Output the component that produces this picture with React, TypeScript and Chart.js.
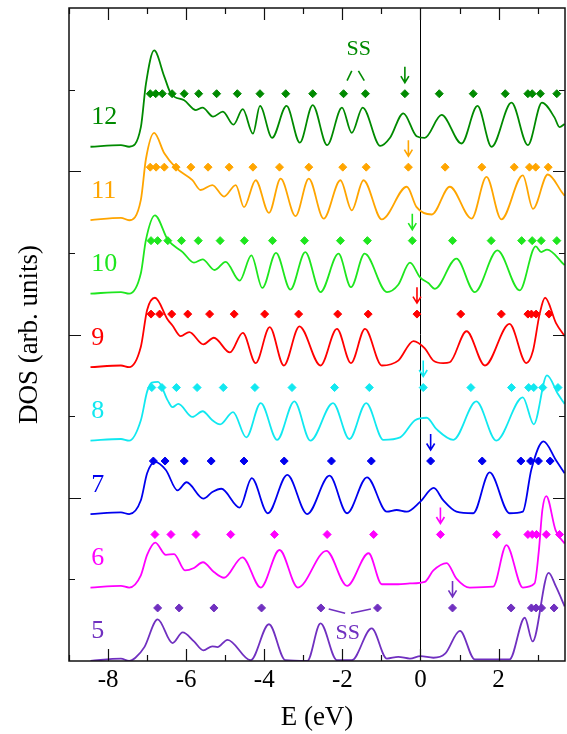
import { useEffect, useRef } from "react";
import { Chart, registerables } from "chart.js";

Chart.register(...registerables);

const FONT = '"Liberation Serif", "Times New Roman", serif';

// cluster sizes, top to bottom
const sizes = [12, 11, 10, 9, 8, 7, 6, 5];
const colors: Record<number, string> = {
  12: "#008a00",
  11: "#ffa500",
  10: "#1ee61e",
  9: "#ff0000",
  8: "#11e8f0",
  7: "#0000ee",
  6: "#ff00ff",
  5: "#7030c0",
};

// DOS curves (energy in eV, DOS in arb. units above each baseline)
const dos12: [number, number][] = [
  [-8.45, 0], [-7.67, 0.02], [-7.46, 0], [-7.16, 0.24], [-7.03, 0.77], [-6.82, 1.18], [-6.56, 0.86],
  [-6.39, 0.65], [-6.05, 0.57], [-5.75, 0.45], [-5.58, 0.48], [-5.31, 0.37], [-5.06, 0.43], [-4.79, 0.27],
  [-4.55, 0.46], [-4.29, 0.16], [-4.11, 0.5], [-3.8, 0.11], [-3.43, 0.5], [-3.09, 0.05], [-2.76, 0.51],
  [-2.39, 0.02], [-2.01, 0.48], [-1.76, 0.17], [-1.48, 0.48], [-1.03, 0.01], [-0.78, 0.11], [-0.44, 0.41],
  [-0.1, 0.13], [0.11, 0.11], [0.54, 0.39], [1.05, 0.04], [1.46, 0.5], [1.82, 0.0], [2.33, 0.54],
  [2.75, 0.02], [3.11, 0.54], [3.43, 0.36], [3.56, 0.24], [3.69, 0.28],
];
const dos11: [number, number][] = [
  [-8.45, 0], [-7.67, 0.03], [-7.46, 0], [-7.16, 0.25], [-7.03, 0.75], [-6.82, 1.07], [-6.56, 0.82],
  [-6.26, 0.64], [-5.84, 0.49], [-5.63, 0.37], [-5.33, 0.43], [-5.03, 0.29], [-4.73, 0.43], [-4.52, 0.16],
  [-4.22, 0.49], [-3.88, 0.09], [-3.58, 0.51], [-3.2, 0.05], [-2.86, 0.51], [-2.48, 0.02], [-2.05, 0.49],
  [-1.76, 0.12], [-1.46, 0.49], [-0.99, 0.01], [-0.35, 0.41], [-0.1, 0.16], [0.29, 0.07], [0.75, 0.41],
  [1.31, 0.02], [1.69, 0.53], [2.07, 0.01], [2.62, 0.55], [2.88, 0.14], [3.26, 0.56], [3.64, 0.33],
  [3.69, 0.3],
];
const dos10: [number, number][] = [
  [-8.45, 0], [-7.67, 0.02], [-7.46, 0], [-7.16, 0.25], [-7.03, 0.66], [-6.8, 0.96], [-6.47, 0.66],
  [-6.09, 0.51], [-5.8, 0.38], [-5.58, 0.42], [-5.27, 0.29], [-4.99, 0.39], [-4.63, 0.16], [-4.33, 0.47],
  [-4.05, 0.07], [-3.7, 0.5], [-3.33, 0.05], [-2.95, 0.51], [-2.56, 0.02], [-2.1, 0.49], [-1.78, 0.08],
  [-1.43, 0.49], [-0.86, 0.02], [-0.57, 0.11], [-0.27, 0.38], [-0.01, 0.2], [0.2, 0.13], [0.37, 0.06],
  [0.92, 0.43], [1.39, 0.02], [1.97, 0.53], [2.54, 0.04], [2.95, 0.58], [3.09, 0.51], [3.24, 0.54],
  [3.69, 0.35],
];
const dos9: [number, number][] = [
  [-8.45, 0], [-7.67, 0.02], [-7.46, 0], [-7.16, 0.25], [-7.0, 0.7], [-6.8, 0.85], [-6.47, 0.58],
  [-6.35, 0.51], [-6.14, 0.38], [-5.92, 0.43], [-5.56, 0.28], [-5.29, 0.36], [-4.88, 0.18], [-4.55, 0.42],
  [-4.22, 0.05], [-3.86, 0.49], [-3.5, 0.02], [-3.1, 0.5], [-2.56, 0.02], [-2.14, 0.47], [-1.78, 0.05],
  [-1.42, 0.47], [-0.99, 0.02], [-0.57, 0.08], [-0.18, 0.32], [0.11, 0.23], [0.33, 0.08], [0.58, 0.05],
  [0.75, 0.06], [1.18, 0.44], [1.65, 0.02], [2.28, 0.53], [2.71, 0.05], [2.88, 0.2], [3.05, 0.65],
  [3.19, 0.85], [3.47, 0.54], [3.69, 0.38],
];
const dos8: [number, number][] = [
  [-8.45, 0], [-7.67, 0.02], [-7.46, 0], [-7.16, 0.25], [-7.0, 0.6], [-6.88, 0.71], [-6.72, 0.72],
  [-6.47, 0.49], [-6.35, 0.41], [-6.2, 0.45], [-5.84, 0.29], [-5.58, 0.36], [-5.33, 0.25], [-5.13, 0.2],
  [-4.8, 0.35], [-4.46, 0.04], [-4.09, 0.46], [-3.67, 0.01], [-3.23, 0.48], [-2.82, 0.0], [-2.24, 0.46],
  [-1.82, 0.02], [-1.39, 0.46], [-0.95, 0.01], [-0.52, 0.04], [-0.14, 0.25], [0.16, 0.28], [0.41, 0.14],
  [0.84, 0.01], [1.43, 0.48], [1.94, 0.0], [2.62, 0.53], [2.9, 0.2], [3.24, 0.8], [3.52, 0.57],
  [3.69, 0.45],
];
const dos7: [number, number][] = [
  [-8.45, 0], [-7.67, 0.02], [-7.46, 0], [-7.16, 0.17], [-7.0, 0.5], [-6.8, 0.64], [-6.52, 0.54],
  [-6.22, 0.29], [-5.99, 0.39], [-5.56, 0.19], [-5.33, 0.27], [-5.1, 0.31], [-4.63, 0.08], [-4.32, 0.44],
  [-3.91, 0.01], [-3.41, 0.48], [-2.9, 0.0], [-2.33, 0.47], [-1.88, 0.01], [-1.37, 0.45], [-0.86, 0.03],
  [-0.61, 0.05], [-0.35, 0.03], [-0.01, 0.15], [0.34, 0.32], [0.58, 0.17], [0.92, 0.03], [1.35, 0.01],
  [1.77, 0.51], [2.28, 0.01], [2.62, 0.03], [2.84, 0.55], [3.15, 0.89], [3.47, 0.66], [3.69, 0.5],
];
const dos6: [number, number][] = [
  [-8.45, 0], [-7.67, 0.02], [-7.46, 0], [-7.16, 0.15], [-7.0, 0.4], [-6.79, 0.55], [-6.52, 0.4],
  [-6.31, 0.41], [-6.03, 0.21], [-5.8, 0.24], [-5.57, 0.31], [-5.29, 0.19], [-5.03, 0.12], [-4.56, 0.37],
  [-4.09, 0.0], [-3.61, 0.46], [-3.14, 0.0], [-2.41, 0.45], [-1.88, 0.02], [-1.33, 0.42], [-0.99, 0.04],
  [-0.57, 0.04], [-0.27, 0.05], [0.11, 0.07], [0.33, 0.21], [0.67, 0.3], [0.92, 0.11], [1.26, 0.0],
  [1.86, 0.01], [2.2, 0.52], [2.62, 0.0], [2.92, 0.05], [3.03, 0.45], [3.12, 0.95], [3.22, 1.12],
  [3.46, 0.7], [3.69, 0.54],
];
const dos5: [number, number][] = [
  [-8.45, 0], [-7.67, 0.03], [-7.46, 0], [-7.3, 0.04], [-7.07, 0.17], [-6.73, 0.51], [-6.35, 0.22],
  [-6.09, 0.35], [-5.8, 0.24], [-5.56, 0.13], [-5.33, 0.18], [-5.2, 0.17], [-4.94, 0.26], [-4.35, 0.01],
  [-3.88, 0.45], [-3.46, 0.01], [-2.9, 0.0], [-2.56, 0.46], [-2.14, 0.01], [-1.76, 0.01], [-1.25, 0.4],
  [-0.86, 0.03], [-0.57, 0.05], [-0.27, 0.03], [0.0, 0.06], [0.33, 0.04], [0.63, 0.09], [1.01, 0.37],
  [1.39, 0.02], [2.28, 0.02], [2.67, 0.53], [2.87, 0.24], [3.28, 1.08], [3.47, 0.91], [3.69, 0.67],
];

// energy levels (diamonds), eV
const lev12 = [-6.92, -6.78, -6.61, -6.36, -6.05, -5.68, -5.22, -4.69, -4.11, -3.45, -2.76, -1.97, -1.41, -0.4, 0.48, 1.35, 2.17, 2.75, 2.86, 3.07, 3.49];
const lev11 = [-6.92, -6.77, -6.56, -6.26, -5.88, -5.44, -4.9, -4.29, -3.61, -2.86, -1.99, -1.39, -0.31, 0.63, 1.57, 2.4, 2.79, 2.95, 3.27];
const lev10 = [-6.9, -6.73, -6.47, -6.12, -5.69, -5.13, -4.51, -3.79, -2.97, -2.05, -1.36, -0.21, 0.82, 1.81, 2.59, 2.86, 3.09, 3.49];
const lev9 = [-6.9, -6.68, -6.37, -5.96, -5.4, -4.77, -3.99, -3.12, -2.12, -1.34, -0.09, 1.03, 2.07, 2.75, 2.84, 2.96, 3.29];
const lev8 = [-6.88, -6.62, -6.25, -5.72, -5.05, -4.24, -3.29, -2.2, -1.31, 0.07, 1.29, 2.33, 2.77, 2.9, 3.13, 3.52];
const lev7 = [-6.84, -6.54, -6.05, -5.36, -4.52, -3.49, -2.28, -1.26, 0.26, 1.58, 2.57, 2.82, 3.02, 3.32];
const lev6 = [-6.8, -6.39, -5.75, -4.86, -3.74, -2.39, -1.2, 0.51, 1.95, 2.75, 2.86, 2.97, 3.22, 3.56];
const lev5 = [-6.73, -6.18, -5.29, -4.07, -2.55, -1.1, 0.82, 2.32, 2.84, 2.96, 3.1, 3.42];

// HOMO level marked by arrows (eV), same order as sizes
const homo = [-0.4, -0.31, -0.21, -0.09, 0.07, 0.26, 0.51, 0.82];

const curves: Record<number, [number, number][]> = { 12: dos12, 11: dos11, 10: dos10, 9: dos9, 8: dos8, 7: dos7, 6: dos6, 5: dos5 };
const levels: Record<number, number[]> = { 12: lev12, 11: lev11, 10: lev10, 9: lev9, 8: lev8, 7: lev7, 6: lev6, 5: lev5 };

const X_MIN = -9;
const X_MAX = 3.7;
const STEP = 0.9; // vertical offset between successive sizes
const LEVEL_ROW = 0.65; // diamond row height above each baseline
const offsetOf = (n: number) => (n - 5) * STEP;

// surface-state annotations: [size, text x, text y (rel), segments [x1,y1,x2,y2] rel]
const ssNotes: { n: number; tx: number; ty: number; segs: number[][] }[] = [
  { n: 12, tx: -1.58, ty: 1.2, segs: [[-1.88, 0.81, -1.76, 0.93], [-1.59, 0.93, -1.44, 0.81]] },
  { n: 5, tx: -1.86, ty: 0.34, segs: [[-2.35, 0.637, -1.93, 0.585], [-1.78, 0.585, -1.27, 0.637]] },
];

const overlay = {
  id: "overlay",
  beforeDatasetsDraw(chart: any) {
    const { ctx, chartArea: a, scales } = chart;
    const x0 = Math.round(scales.x.getPixelForValue(0)) + 0.5;
    ctx.save();
    ctx.strokeStyle = "#000";
    ctx.lineWidth = 1;
    ctx.beginPath();
    ctx.moveTo(x0, a.top);
    ctx.lineTo(x0, a.bottom);
    ctx.stroke();
    ctx.restore();
  },
  afterDatasetsDraw(chart: any) {
    const { ctx, chartArea: a, scales } = chart;
    const xs = scales.x;
    const ys = scales.y;
    ctx.save();

    // arrows at HOMO
    sizes.forEach((n, i) => {
      const off = offsetOf(n);
      const px = xs.getPixelForValue(homo[i]);
      const tip = ys.getPixelForValue(off + LEVEL_ROW + 0.135);
      const tail = ys.getPixelForValue(off + LEVEL_ROW + 0.33);
      ctx.strokeStyle = colors[n];
      ctx.lineWidth = 1.6;
      ctx.beginPath();
      ctx.moveTo(px, tail);
      ctx.lineTo(px, tip);
      ctx.moveTo(px - 4, tip - 6.5);
      ctx.lineTo(px, tip);
      ctx.lineTo(px + 4, tip - 6.5);
      ctx.stroke();
    });

    // size labels
    ctx.font = `26px ${FONT}`;
    ctx.textAlign = "left";
    ctx.textBaseline = "middle";
    sizes.forEach((n) => {
      ctx.fillStyle = colors[n];
      ctx.fillText(String(n), xs.getPixelForValue(-8.43), ys.getPixelForValue(offsetOf(n) + 0.36));
    });

    // SS notes
    ssNotes.forEach((s) => {
      const off = offsetOf(s.n);
      ctx.fillStyle = colors[s.n];
      ctx.strokeStyle = colors[s.n];
      ctx.font = `22px ${FONT}`;
      ctx.textAlign = "center";
      ctx.textBaseline = "middle";
      ctx.fillText("SS", xs.getPixelForValue(s.tx), ys.getPixelForValue(off + s.ty));
      ctx.lineWidth = 1.6;
      s.segs.forEach(([x1, y1, x2, y2]) => {
        ctx.beginPath();
        ctx.moveTo(xs.getPixelForValue(x1), ys.getPixelForValue(off + y1));
        ctx.lineTo(xs.getPixelForValue(x2), ys.getPixelForValue(off + y2));
        ctx.stroke();
      });
    });

    // frame with inward ticks
    ctx.strokeStyle = "#111";
    ctx.lineWidth = 1.5;
    ctx.strokeRect(a.left, a.top, a.right - a.left, a.bottom - a.top);
    ctx.lineWidth = 1.2;
    ctx.beginPath();
    for (let v = Math.ceil(X_MIN); v <= Math.floor(X_MAX); v++) {
      const p = Math.round(xs.getPixelForValue(v)) + 0.5;
      const len = v % 2 === 0 ? 12 : 6;
      ctx.moveTo(p, a.bottom);
      ctx.lineTo(p, a.bottom - len);
      ctx.moveTo(p, a.top);
      ctx.lineTo(p, a.top + len);
    }
    for (let v = 1; v <= 7; v++) {
      const p = Math.round(ys.getPixelForValue(v)) + 0.5;
      const len = v % 2 === 0 ? 12 : 6;
      ctx.moveTo(a.left, p);
      ctx.lineTo(a.left + len, p);
      ctx.moveTo(a.right, p);
      ctx.lineTo(a.right - len, p);
    }
    ctx.stroke();
    ctx.restore();
  },
};

export default function App() {
  const ref = useRef<HTMLCanvasElement>(null);
  useEffect(() => {
    const datasets: any[] = [];
    sizes.forEach((n) => {
      const off = offsetOf(n);
      datasets.push({
        type: "line",
        label: `DOS ${n}`,
        data: curves[n].map(([e, d]) => ({ x: e, y: d + off })),
        borderColor: colors[n],
        borderWidth: 1.8,
        pointRadius: 0,
        fill: false,
        cubicInterpolationMode: "monotone",
      });
    });
    sizes.forEach((n) => {
      const off = offsetOf(n);
      datasets.push({
        type: "line",
        label: `levels ${n}`,
        data: levels[n].map((e) => ({ x: e, y: off + LEVEL_ROW })),
        showLine: false,
        pointStyle: "rectRot",
        pointRadius: 4,
        pointBorderWidth: 1,
        pointBackgroundColor: colors[n],
        pointBorderColor: colors[n],
        borderColor: colors[n],
      });
    });

    const chart = new Chart(ref.current as HTMLCanvasElement, {
      type: "line",
      data: { datasets },
      options: {
        responsive: false,
        maintainAspectRatio: false,
        animation: false,
        layout: { autoPadding: false, padding: { top: 8, right: 2, left: 0, bottom: 0 } },
        plugins: { legend: { display: false }, tooltip: { enabled: false } },
        scales: {
          x: {
            type: "linear",
            min: X_MIN,
            max: X_MAX,
            grid: { display: false, drawTicks: false },
            border: { display: false },
            ticks: {
              stepSize: 1,
              autoSkip: false,
              includeBounds: false,
              maxRotation: 0,
              padding: 4,
              color: "#000",
              font: { family: FONT, size: 25 },
              callback: (v: any) => (Math.round(v) % 2 === 0 ? String(Math.round(v)) : ""),
            },
            title: {
              display: true,
              text: "E (eV)",
              color: "#000",
              font: { family: FONT, size: 27 },
              padding: { top: 0, bottom: 0 },
            },
            afterFit: (s: any) => {
              s.height = 73;
              s.paddingLeft = 0;
              s.paddingRight = 0;
            },
          },
          y: {
            type: "linear",
            min: 0,
            max: 8,
            grid: { display: false, drawTicks: false },
            border: { display: false },
            ticks: { display: false, stepSize: 1 },
            title: {
              display: true,
              text: "DOS (arb. units)",
              color: "#000",
              font: { family: FONT, size: 27 },
              padding: { top: 14, bottom: 0 },
            },
            afterFit: (s: any) => {
              s.width = 69;
              s.paddingTop = 0;
              s.paddingBottom = 0;
            },
          },
        },
      },
      plugins: [overlay],
    } as any);
    return () => chart.destroy();
  }, []);

  return (
    <div style={{ position: "absolute", left: 0, top: 0, width: 567, height: 734, background: "#fff" }}>
      <canvas ref={ref} width={567} height={734} style={{ display: "block" }} />
    </div>
  );
}
